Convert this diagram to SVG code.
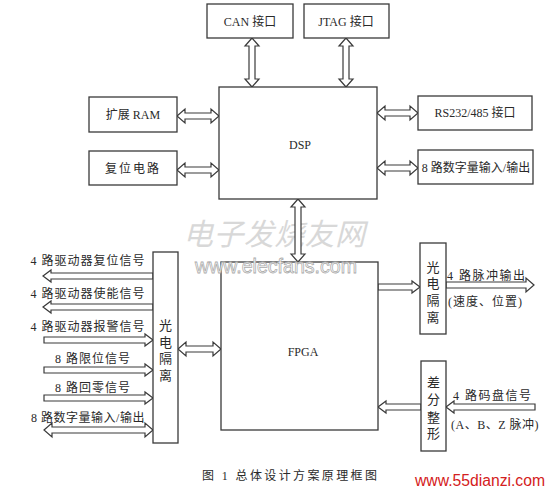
<svg xmlns="http://www.w3.org/2000/svg" width="550" height="490" viewBox="0 0 550 490">
<style>
.box{fill:#fff;stroke:#3a3a3a;stroke-width:1.3}
.arr{fill:#fff;stroke:#3a3a3a;stroke-width:1.2;stroke-linejoin:miter}
text{font-family:"Liberation Serif","Noto Sans CJK SC",serif;fill:#2a2a2a;font-size:12px}
.c{text-anchor:middle}
.v{text-anchor:middle;font-size:13px}
.wm{font-family:"Noto Sans CJK SC",sans-serif;fill:#d8d8d8;font-size:30px;font-style:italic}
.wm2{font-family:"Liberation Sans",sans-serif;fill:#fff;stroke:#aaa;stroke-width:0.8;font-size:21px}
.red{font-family:"Liberation Sans",sans-serif;fill:#d42020;font-size:16px}
</style>
<rect width="550" height="490" fill="#fff"/>
<g id="watermark">
<text class="wm" x="183" y="245" textLength="182" lengthAdjust="spacing">电子发烧友网</text>
</g>
<g id="connectors">
<!-- CAN <-> DSP -->
<path class="arr" d="M252,38 L259,46 L255,46 L255,79 L259,79 L252,87 L245,79 L249,79 L249,46 L245,46 Z"/>
<!-- JTAG <-> DSP -->
<path class="arr" d="M346,38 L353,46 L349,46 L349,79 L353,79 L346,87 L339,79 L343,79 L343,46 L339,46 Z"/>
<!-- RAM <-> DSP -->
<path class="arr" d="M177,116 L185,109 L185,113 L211,113 L211,109 L219,116 L211,123 L211,119 L185,119 L185,123 Z"/>
<!-- reset <-> DSP -->
<path class="arr" d="M177,170 L185,163 L185,167 L211,167 L211,163 L219,170 L211,177 L211,173 L185,173 L185,177 Z"/>
<!-- DSP <-> RS232 -->
<path class="arr" d="M377,113 L385,106 L385,110 L410,110 L410,106 L418,113 L410,120 L410,116 L385,116 L385,120 Z"/>
<!-- DSP <-> 8 IO -->
<path class="arr" d="M377,168 L385,161 L385,165 L410,165 L410,161 L418,168 L410,175 L410,171 L385,171 L385,175 Z"/>
<!-- DSP <-> FPGA -->
<path class="arr" d="M298,199 L305,207 L301,207 L301,254 L305,254 L298,262 L291,254 L295,254 L295,207 L291,207 Z"/>
<!-- left iso <-> FPGA -->
<path class="arr" d="M178,349 L186,342 L186,346 L213,346 L213,342 L221,349 L213,356 L213,352 L186,352 L186,356 Z"/>
<!-- left signals -->
<path class="arr" d="M43,276 L51,270 L51,273 L153,273 L153,279 L51,279 L51,282 Z"/>
<path class="arr" d="M43,307 L51,301 L51,304 L153,304 L153,310 L51,310 L51,313 Z"/>
<path class="arr" d="M153,340 L145,334 L145,337 L44,337 L44,343 L145,343 L145,346 Z"/>
<path class="arr" d="M153,370 L145,364 L145,367 L44,367 L44,373 L145,373 L145,376 Z"/>
<path class="arr" d="M153,398 L145,392 L145,395 L44,395 L44,401 L145,401 L145,404 Z"/>
<path class="arr" d="M44,430 L52,423 L52,427 L145,427 L145,423 L153,430 L145,437 L145,433 L52,433 L52,437 Z"/>
<!-- FPGA -> right iso -->
<path class="arr" d="M420,287 L412,281 L412,284 L378,284 L378,290 L412,290 L412,293 Z"/>
<!-- pulse output -->
<path class="arr" d="M534,285 L526,278 L526,282 L446,282 L446,288 L526,288 L526,292 Z"/>
<!-- diff -> FPGA -->
<path class="arr" d="M378,407 L386,401 L386,404 L421,404 L421,410 L386,410 L386,413 Z"/>
<!-- encoder input -->
<path class="arr" d="M446,407 L454,401 L454,404 L535,404 L535,410 L454,410 L454,413 Z"/>
</g>
<g id="can"><rect class="box" x="207" y="4" width="86" height="34"/><text class="c" x="250" y="26">CAN 接口</text></g>
<g id="jtag"><rect class="box" x="304" y="4" width="85" height="34"/><text class="c" x="346" y="26">JTAG 接口</text></g>
<g id="ram"><rect class="box" x="89" y="97" width="88" height="35"/><text class="c" x="133" y="119">扩展 RAM</text></g>
<g id="reset"><rect class="box" x="89" y="151" width="88" height="34"/><text class="c" x="133" y="173" letter-spacing="2">复位电路</text></g>
<g id="dsp"><rect class="box" x="219" y="87" width="158" height="112"/><text class="c" x="300" y="149">DSP</text></g>
<g id="rs232"><rect class="box" x="418" y="96" width="114" height="34"/><text class="c" x="475" y="117">RS232/485 接口</text></g>
<g id="io8"><rect class="box" x="418" y="150" width="115" height="34"/><text class="c" x="476" y="172">8 路数字量输入/输出</text></g>
<g id="fpga"><rect class="box" x="221" y="262" width="157" height="168"/><text class="c" x="303" y="356">FPGA</text></g>
<g id="iso-left"><rect class="box" x="153" y="252" width="25" height="191"/>
<text class="v" x="165.5" y="330">光</text><text class="v" x="165.5" y="347">电</text><text class="v" x="165.5" y="363">隔</text><text class="v" x="165.5" y="380">离</text></g>
<g id="iso-right"><rect class="box" x="420" y="243" width="26" height="91"/>
<text class="v" x="433" y="272">光</text><text class="v" x="433" y="288">电</text><text class="v" x="433" y="305">隔</text><text class="v" x="433" y="322">离</text></g>
<g id="diff"><rect class="box" x="421" y="361" width="25" height="90"/>
<text class="v" x="433.5" y="387">差</text><text class="v" x="433.5" y="404">分</text><text class="v" x="433.5" y="422">整</text><text class="v" x="433.5" y="438">形</text></g>
<g id="labels">
<text class="c" x="88" y="265" letter-spacing="1">4 路驱动器复位信号</text>
<text class="c" x="88" y="298" letter-spacing="1">4 路驱动器使能信号</text>
<text class="c" x="88" y="331" letter-spacing="1">4 路驱动器报警信号</text>
<text class="c" x="93" y="363" letter-spacing="1">8 路限位信号</text>
<text class="c" x="93" y="392" letter-spacing="1">8 路回零信号</text>
<text class="c" x="88" y="422" letter-spacing="0.5">8 路数字量输入/输出</text>
<text x="447" y="280" letter-spacing="1.5">4 路脉冲输出</text>
<text x="448" y="306" letter-spacing="1">(速度、位置)</text>
<text x="453" y="400" letter-spacing="1.5">4 路码盘信号</text>
<text x="451" y="429" letter-spacing="0.5">(A、B、Z 脉冲)</text>
<text x="202" y="480" font-size="11" textLength="175" lengthAdjust="spacing">图 1  总体设计方案原理框图</text>
</g>
<g id="watermark2">
<text class="wm2" x="195" y="273" textLength="162" lengthAdjust="spacingAndGlyphs">www.elecfans.com</text>
<text class="red" x="415" y="486" textLength="130" lengthAdjust="spacingAndGlyphs">www.55dianzi.com</text>
</g>
</svg>
